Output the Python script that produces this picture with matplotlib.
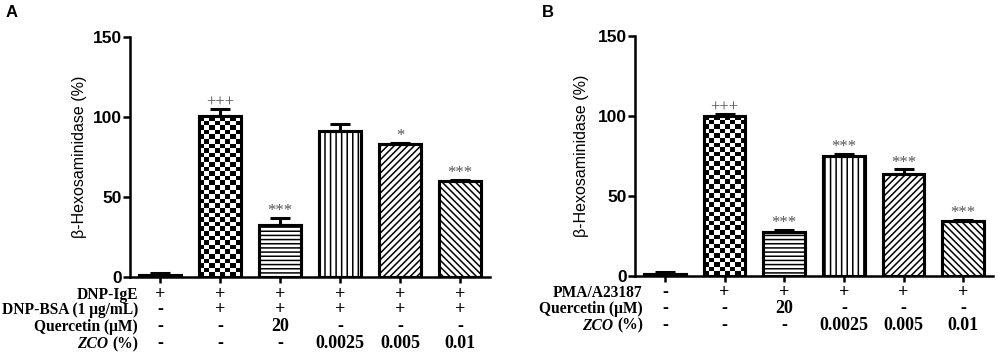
import numpy as np
import matplotlib
matplotlib.use("Agg")
import matplotlib.pyplot as plt

# panel A: IgE-mediated
vals_a = [1.0, 100.5, 32.5, 91.0, 83.0, 59.8]
errs_a = [1.2, 4.5, 4.5, 4.6, 1.0, 0.8]
sig_a = ["", "+++", "***", "", "*", "***"]
rows_a = ["DNP-IgE", "DNP-BSA (1 \u03bcg/mL)", "Quercetin (\u03bcM)", "(%)"]
cells_a = [
    ["+", "+", "+", "+", "+", "+"],
    ["-", "+", "+", "+", "+", "+"],
    ["-", "-", "20", "-", "-", "-"],
    ["-", "-", "-", "0.0025", "0.005", "0.01"],
]

# panel B: PMA/A23187
vals_b = [1.5, 100.2, 27.8, 75.3, 63.5, 34.5]
errs_b = [0.8, 0.8, 1.0, 1.2, 3.2, 0.5]
sig_b = ["", "+++", "***", "***", "***", "***"]
rows_b = ["PMA/A23187", "Quercetin (\u03bcM)", "(%)"]
cells_b = [
    ["-", "+", "+", "+", "+", "+"],
    ["-", "-", "20", "-", "-", "-"],
    ["-", "-", "-", "0.0025", "0.005", "0.01"],
]

hatches = [None, "checker", "----", "|||", "/////", "\\\\\\\\\\"]
SANS = "Liberation Sans"
SERIF = "Liberation Serif"

plt.rcParams["hatch.linewidth"] = 1.1


def draw_panel(ax, vals, errs, sig, rows, cells, row_y, label_pad):
    x = np.arange(len(vals))
    bars = ax.bar(x, vals, width=0.7, color="white", edgecolor="black",
                  linewidth=2.2, zorder=2)
    for b, h in zip(bars, hatches):
        if h is None:
            continue
        if h == "checker":
            x0, y0 = b.get_x(), b.get_y()
            w, hh = b.get_width(), b.get_height()
            ny = int(round(hh / 2.9))
            nx = 8
            board = (np.indices((ny, nx)).sum(axis=0) % 2).astype(float)
            im = ax.imshow(board, cmap="gray", extent=(x0, x0 + w, y0, y0 + hh),
                           aspect="auto", interpolation="nearest", zorder=2.5,
                           origin="upper")
            im.set_clip_path(b)
        else:
            b.set_hatch(h)
    # outline on top
    ax.bar(x, vals, width=0.7, fill=False, edgecolor="black", linewidth=2.2,
           zorder=3)
    ax.errorbar(x, vals, yerr=[np.zeros(len(errs)), errs], fmt="none",
                ecolor="black", elinewidth=2.2, capsize=7, capthick=2.2,
                zorder=4)
    for xi, v, e, s in zip(x, vals, errs, sig):
        if s:
            ax.annotate(s, (xi, v + e), xytext=(0, -1), textcoords="offset points",
                        ha="center", va="bottom", fontsize=12, color="#555555",
                        family=SERIF)

    ax.set_xlim(-0.5, 5.5)
    ax.set_ylim(0, 150)
    ax.set_yticks([0, 50, 100, 150])
    ax.set_xticks(x)
    ax.set_xticklabels([])
    ax.tick_params(axis="y", length=5, width=1.8, labelsize=12.5, pad=1)
    ax.tick_params(axis="x", length=4.5, width=1.8)
    for lab in ax.get_yticklabels():
        lab.set_family(SANS)
        lab.set_fontweight("bold")
    for side in ["top", "right"]:
        ax.spines[side].set_visible(False)
    for side in ["left", "bottom"]:
        ax.spines[side].set_linewidth(1.8)
    ax.set_ylabel("\u03b2-Hexosaminidase (%)", family=SANS, fontsize=11.5,
                  labelpad=label_pad)

    tr = ax.get_xaxis_transform()
    for r, (name, row) in enumerate(zip(rows, cells)):
        yy = row_y[r]
        t = ax.text(-0.37, yy, name, transform=tr, ha="right", va="baseline",
                    family=SERIF, fontweight="bold", fontsize=11.2)
        if name == "(%)":
            ax.annotate("ZCO ", xy=(0, 0), xycoords=t, ha="right", va="bottom",
                        family=SERIF, fontweight="bold", style="italic",
                        fontsize=11.2)
        for xi, c in zip(x, row):
            ax.text(xi, yy, c, transform=tr, ha="center", va="baseline",
                    family=SERIF, fontweight="bold", fontsize=13)


fig = plt.figure(figsize=(10, 3.55), dpi=100)
ax_a = fig.add_axes([0.13, 0.2197, 0.36, 0.676])
ax_b = fig.add_axes([0.635, 0.2225, 0.358, 0.676])

draw_panel(ax_a, vals_a, errs_a, sig_a, rows_a, cells_a,
           [-0.09, -0.156, -0.223, -0.297], 4)
draw_panel(ax_b, vals_b, errs_b, sig_b, rows_b, cells_b,
           [-0.087, -0.156, -0.224], 6)

fig.text(0.006, 0.965, "A", family=SANS, fontweight="bold", fontsize=12,
         va="center", ha="left")
fig.text(0.542, 0.965, "B", family=SANS, fontweight="bold", fontsize=12,
         va="center", ha="left")

fig.savefig("out.png", dpi=100)
